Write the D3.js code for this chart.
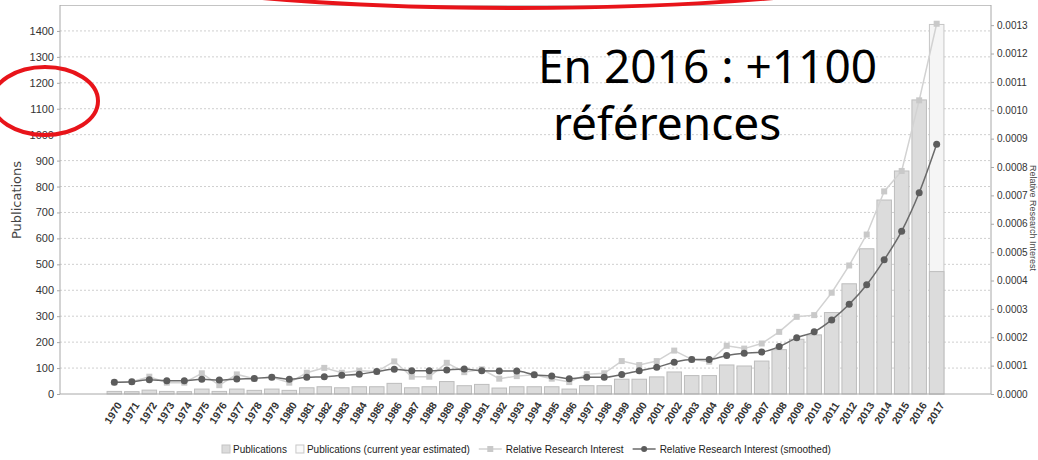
<!DOCTYPE html>
<html lang="fr">
<head>
<meta charset="UTF-8">
<title>Publications et Relative Research Interest 1970-2017</title>
<script src="https://d3js.org/d3.v7.min.js"></script>
<style>
  body { margin: 0; background: #fff; font-family: "Liberation Sans", Arial, sans-serif; }
  svg { display: block; }
  .grid line { stroke: #cfcfcf; stroke-dasharray: 2,2; }
  .axis text { fill: #333; }
  .axis path, .axis line { stroke: #a8a8a8; }
</style>
</head>
<body>
<div id="chart"></div>
<script>
// années (catégories)
const years = [1970, 1971, 1972, 1973, 1974, 1975, 1976, 1977, 1978, 1979,
  1980, 1981, 1982, 1983, 1984, 1985, 1986, 1987, 1988, 1989,
  1990, 1991, 1992, 1993, 1994, 1995, 1996, 1997, 1998, 1999,
  2000, 2001, 2002, 2003, 2004, 2005, 2006, 2007, 2008, 2009,
  2010, 2011, 2012, 2013, 2014, 2015, 2016, 2017];

// nombre de publications par an
const publications = [10, 9, 15, 10, 9, 19, 10, 19, 14, 19,
  14, 24, 28, 24, 28, 28, 41, 24, 28, 48,
  32, 37, 23, 28, 28, 28, 19, 32, 32, 57,
  57, 66, 85, 71, 71, 112, 108, 127, 171, 211,
  228, 314, 425, 560, 748, 860, 1134, 472];

// 2017 : estimation pour l'année en cours
const estimated2017 = 1425;

// Relative Research Interest
const interest = [0.000041, 0.000043, 0.000061, 0.000040, 0.000040, 0.000073, 0.000031, 0.000069, 0.000054, 0.000059,
  0.000040, 0.000075, 0.000092, 0.000075, 0.000082, 0.000079, 0.000115, 0.000061, 0.000061, 0.000110,
  0.000077, 0.000087, 0.000054, 0.000063, 0.000068, 0.000054, 0.000042, 0.000070, 0.000073, 0.000116,
  0.000102, 0.000116, 0.000153, 0.000122, 0.000114, 0.000170, 0.000160, 0.000178, 0.000219, 0.000272,
  0.000278, 0.000357, 0.000453, 0.000562, 0.000714, 0.000786, 0.001035, 0.001305];

// Relative Research Interest (smoothed)
const smoothed = [0.000041, 0.000043, 0.000050, 0.000047, 0.000047, 0.000052, 0.000049, 0.000053, 0.000055, 0.000059,
  0.000052, 0.000059, 0.000061, 0.000066, 0.000070, 0.000079, 0.000087, 0.000082, 0.000082, 0.000085,
  0.000088, 0.000082, 0.000081, 0.000081, 0.000068, 0.000063, 0.000054, 0.000059, 0.000059, 0.000069,
  0.000082, 0.000094, 0.000112, 0.000122, 0.000122, 0.000136, 0.000144, 0.000148, 0.000167, 0.000198,
  0.000219, 0.000261, 0.000316, 0.000385, 0.000473, 0.000574, 0.000709, 0.000880];

const leftTicks = [0, 100, 200, 300, 400, 500, 600, 700, 800, 900, 1000, 1100, 1200, 1300, 1400];
const rightTicks = [0, 0.0001, 0.0002, 0.0003, 0.0004, 0.0005, 0.0006, 0.0007, 0.0008, 0.0009, 0.0010, 0.0011, 0.0012, 0.0013];

const legendItems = ["Publications", "Publications (current year estimated)",
  "Relative Research Interest", "Relative Research Interest (smoothed)"];

const width = 1038, height = 460;
const plot = { left: 60, right: 991, top: 5, bottom: 394 };

const svg = d3.select("#chart").append("svg")
  .attr("width", width)
  .attr("height", height);

const x = d3.scaleBand()
  .domain(years)
  .range([plot.left, plot.right])
  .paddingInner(0.17)
  .paddingOuter(2.69);

const y = d3.scaleLinear().domain([0, 1500]).range([plot.bottom, plot.top]);
const y2 = d3.scaleLinear().domain([0, 0.001371]).range([plot.bottom, plot.top]);

// grille pointillée
svg.append("g").attr("class", "grid")
  .selectAll("line")
  .data(leftTicks.slice(1))
  .join("line")
  .attr("x1", plot.left).attr("x2", plot.right)
  .attr("y1", d => y(d)).attr("y2", d => y(d));

// cadre
svg.append("line")
  .attr("x1", plot.left).attr("x2", plot.right)
  .attr("y1", plot.top + 0.5).attr("y2", plot.top + 0.5)
  .attr("stroke", "#c4c4c4");

// barres : estimation 2017 puis publications
const last = years[years.length - 1];
svg.append("rect")
  .attr("x", x(last))
  .attr("y", y(estimated2017))
  .attr("width", x.bandwidth())
  .attr("height", y(0) - y(estimated2017))
  .attr("fill", "#f5f5f5")
  .attr("stroke", "#c6c6c6");

svg.append("g")
  .selectAll("rect")
  .data(years)
  .join("rect")
  .attr("x", d => x(d))
  .attr("y", (d, i) => y(publications[i]))
  .attr("width", x.bandwidth())
  .attr("height", (d, i) => y(0) - y(publications[i]))
  .attr("fill", "#dcdcdc")
  .attr("stroke", "#bdbdbd");

// axes
const axisLeft = d3.axisLeft(y).tickValues(leftTicks).tickFormat(d3.format("d")).tickSize(3).tickPadding(3);
svg.append("g").attr("class", "axis")
  .attr("transform", `translate(${plot.left},0)`)
  .call(axisLeft)
  .call(g => g.select(".domain").attr("d", `M0,${plot.top}V${plot.bottom}`))
  .selectAll("text").style("font-size", "11px");

const axisRight = d3.axisRight(y2).tickValues(rightTicks).tickFormat(d3.format(".4f")).tickSize(3).tickPadding(3);
svg.append("g").attr("class", "axis")
  .attr("transform", `translate(${plot.right},0)`)
  .call(axisRight)
  .call(g => g.select(".domain").attr("d", `M0,${plot.top}V${plot.bottom}`))
  .selectAll("text").style("font-size", "10px");

const axisBottom = d3.axisBottom(x).tickSize(0).tickPadding(0);
svg.append("g").attr("class", "axis")
  .attr("transform", `translate(0,${plot.bottom})`)
  .call(axisBottom)
  .call(g => g.select(".domain").attr("d", `M${plot.left},0H${plot.right}`))
  .selectAll("text")
  .style("font-size", "10.5px")
  .style("font-weight", "bold")
  .attr("text-anchor", "end")
  .attr("dy", "0.35em")
  .attr("y", 0)
  .attr("transform", "translate(5,9) rotate(-58)");

// titres des axes
svg.append("text")
  .attr("transform", "translate(21,200) rotate(-90)")
  .attr("text-anchor", "middle")
  .style("font-family", "'DejaVu Sans', sans-serif")
  .style("font-size", "13px")
  .attr("fill", "#444")
  .text("Publications");

svg.append("text")
  .attr("transform", "translate(1030,218) rotate(90)")
  .attr("text-anchor", "middle")
  .style("font-size", "9px")
  .attr("fill", "#444")
  .text("Relative Research Interest");

// courbe Relative Research Interest
const cx = (d, i) => x(years[i]) + x.bandwidth() / 2;

svg.append("path")
  .datum(interest)
  .attr("fill", "none")
  .attr("stroke", "#d2d2d2")
  .attr("stroke-width", 1.5)
  .attr("d", d3.line().x(cx).y(d => y2(d)));

svg.append("g")
  .selectAll("rect")
  .data(interest)
  .join("rect")
  .attr("x", (d, i) => cx(d, i) - 3)
  .attr("y", d => y2(d) - 3)
  .attr("width", 6)
  .attr("height", 6)
  .attr("fill", "#c9c9c9");

// courbe lissée
svg.append("path")
  .datum(smoothed)
  .attr("fill", "none")
  .attr("stroke", "#6a6a6a")
  .attr("stroke-width", 1.5)
  .attr("d", d3.line().x(cx).y(d => y2(d)).curve(d3.curveMonotoneX));

svg.append("g")
  .selectAll("circle")
  .data(smoothed)
  .join("circle")
  .attr("cx", cx)
  .attr("cy", d => y2(d))
  .attr("r", 3.5)
  .attr("fill", "#5c5c5c");

// légende
const legend = svg.append("g").style("font-size", "10px");
let lx = 222;
const ly = 449;
legendItems.forEach((label, i) => {
  if (i < 2) {
    legend.append("rect")
      .attr("x", lx).attr("y", ly - 4).attr("width", 8).attr("height", 8)
      .attr("fill", i === 0 ? "#dcdcdc" : "#fafafa")
      .attr("stroke", i === 0 ? "#c4c4c4" : "#c8c8c8");
    lx += 11;
  } else {
    legend.append("line")
      .attr("x1", lx).attr("x2", lx + 23).attr("y1", ly).attr("y2", ly)
      .attr("stroke", i === 2 ? "#d2d2d2" : "#6a6a6a").attr("stroke-width", 1.5);
    if (i === 2) {
      legend.append("rect").attr("x", lx + 8.5).attr("y", ly - 3).attr("width", 6).attr("height", 6).attr("fill", "#c9c9c9");
    } else {
      legend.append("circle").attr("cx", lx + 11.5).attr("cy", ly).attr("r", 3).attr("fill", "#5c5c5c");
    }
    lx += 27;
  }
  const t = legend.append("text")
    .attr("x", lx).attr("y", ly).attr("dy", "0.35em")
    .attr("fill", "#222")
    .text(label);
  lx += t.node().getComputedTextLength() + 9;
});

// annotation
const note = svg.append("g")
  .style("font-family", "'Comic Sans MS', 'Noto Sans', sans-serif")
  .style("font-size", "46px")
  .attr("fill", "#000");
note.append("text").attr("x", 538).attr("y", 83).text("En 2016 : +1100");
note.append("text").attr("x", 553).attr("y", 140).text("références");

// ellipses rouges
svg.append("ellipse")
  .attr("cx", 45).attr("cy", 101).attr("rx", 53).attr("ry", 34)
  .attr("fill", "none").attr("stroke", "#e8141a").attr("stroke-width", 4);

svg.append("ellipse")
  .attr("cx", 518).attr("cy", -60).attr("rx", 486).attr("ry", 68)
  .attr("fill", "none").attr("stroke", "#e8141a").attr("stroke-width", 4);
</script>
</body>
</html>
